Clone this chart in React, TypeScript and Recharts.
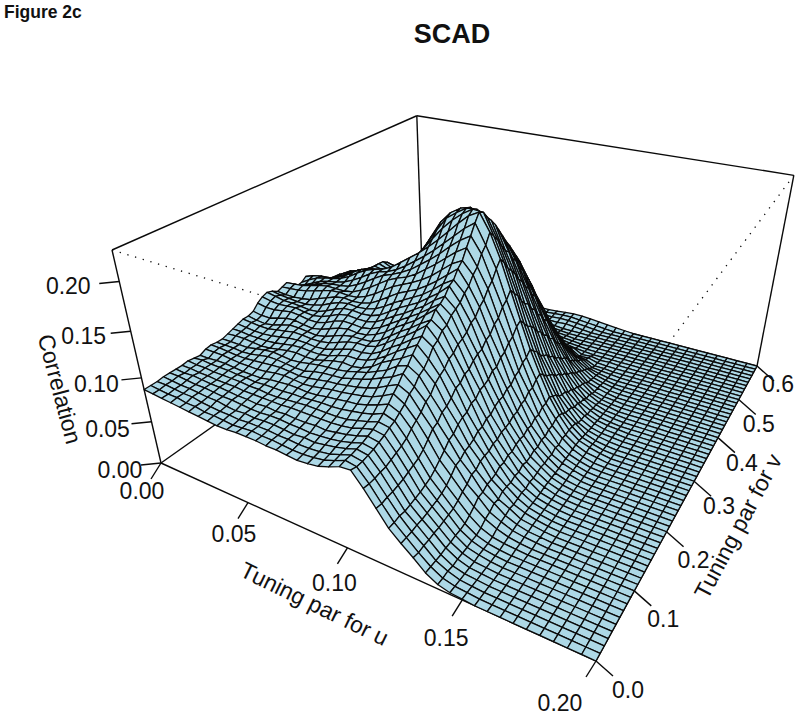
import { Scatter, ScatterChart, XAxis, YAxis } from "recharts";

const WIDTH = 800;
const HEIGHT = 717;
const FONT = "'Liberation Sans', Arial, sans-serif";

// tick labels of the three axes
const uTicks = [0, 0.05, 0.1, 0.15, 0.2];
const vTicks = [0, 0.1, 0.2, 0.3, 0.4, 0.5, 0.6];
const zTicks = [0, 0.05, 0.1, 0.15, 0.2];

const U_MAX = 0.2;
const V_MAX = 0.6;
const Z_MAX = 0.23;
const U_STEPS = 40;
const V_STEPS = 60;

// correlation x 1000, one row per v step (0 to 0.6), one value per u step (0 to 0.2).
// Rows stop where the surface reaches zero, the rest of the row is flat.
const correlationRows = [
  [87,86,85,84,83,82,81,80,79,79,80,80,80,79,79,78,77,78,80,84,89,90,76,60,44,33,23,12,5,2,1],
  [87,86,85,85,83,83,81,81,80,79,80,81,80,80,79,78,78,79,81,85,90,88,75,59,44,33,22,12,5,2,1],
  [87,87,86,85,85,83,82,81,81,80,81,81,81,80,80,79,79,80,82,86,90,88,75,60,45,33,23,12,6,2,1],
  [88,87,86,86,85,84,84,82,81,82,81,82,82,81,80,81,80,82,84,87,91,89,76,60,44,34,23,12,5,2,1],
  [88,88,87,86,86,85,84,84,83,82,82,83,83,82,82,81,82,83,85,88,92,90,76,61,45,34,24,13,6,2,1],
  [88,87,88,87,86,86,85,84,84,83,84,83,84,83,83,84,83,85,87,90,94,92,78,62,46,35,24,13,6,2,1],
  [88,88,87,87,86,86,86,85,85,85,85,85,86,86,86,86,86,87,89,93,96,94,80,64,47,36,25,14,6,3,1],
  [89,88,88,87,87,87,87,86,86,85,85,86,87,88,88,88,88,89,92,95,99,97,82,66,49,37,26,14,7,3,1],
  [88,89,88,88,88,87,87,86,87,87,87,88,88,89,90,90,91,93,95,98,103,99,85,68,51,39,27,15,7,3,1],
  [87,87,88,88,87,86,86,86,88,89,90,90,89,90,92,93,95,96,99,103,108,103,90,72,55,42,30,18,9,4,2,1],
  [90,90,90,89,88,88,88,89,91,92,91,90,91,93,95,96,98,100,103,108,114,107,94,78,60,47,34,22,13,7,3,1],
  [91,91,90,89,89,90,91,92,93,92,91,92,94,96,97,99,101,104,108,114,119,113,98,84,65,53,37,27,15,9,4,2,1],
  [90,90,90,89,90,92,94,94,93,92,92,95,97,98,99,102,105,109,114,119,126,116,104,86,71,54,42,27,19,10,5,2,1],
  [90,90,90,90,92,94,95,94,93,94,96,98,99,100,102,105,108,113,118,126,130,123,107,92,73,58,42,30,18,12,5,3,1],
  [92,93,93,92,91,92,94,96,97,96,96,99,102,104,103,105,110,118,124,130,137,126,114,94,78,59,46,30,21,11,6,3,1],
  [94,94,93,93,93,94,96,98,99,98,98,100,104,107,107,109,114,121,129,136,143,132,118,98,81,61,47,31,21,12,6,3,1],
  [96,95,94,94,95,97,99,100,100,99,100,103,107,110,110,112,118,126,133,141,148,140,121,104,82,65,47,34,20,13,6,3,1],
  [98,97,96,96,98,100,102,102,101,101,103,107,111,113,113,116,123,131,138,146,155,143,127,105,87,65,50,33,22,12,6,3,1],
  [98,96,95,97,100,103,103,102,101,103,107,111,113,113,114,119,127,135,142,150,157,149,129,110,87,69,50,36,21,14,6,3,1],
  [100,98,98,101,104,105,103,102,104,108,112,114,113,114,118,124,132,139,146,155,164,151,134,111,92,69,53,35,24,13,7,3,1],
  [106,104,104,106,108,107,105,105,108,113,116,116,115,117,122,129,136,143,150,158,166,157,136,116,93,73,53,38,22,14,7,3,1],
  [110,108,107,108,109,107,106,108,112,117,119,118,118,121,127,134,140,147,154,163,170,160,139,119,95,75,54,39,23,15,7,3,1],
  [112,110,108,108,107,106,107,111,116,120,121,120,121,125,132,139,145,151,159,167,177,163,145,120,100,75,57,38,25,14,7,3,1],
  [110,108,107,106,106,108,111,116,120,122,121,122,125,131,138,144,150,156,164,173,180,169,147,126,100,79,57,41,24,15,7,4,1],
  [106,105,105,106,108,112,116,120,122,121,122,125,131,138,145,150,155,162,170,179,188,173,154,128,106,79,61,40,27,14,8,4,1],
  [108,109,110,112,115,118,121,122,121,122,126,132,139,146,151,156,162,169,178,187,193,181,158,135,108,84,61,44,26,17,8,4,1],
  [110,111,112,115,118,120,120,120,122,127,133,140,147,152,156,162,170,178,187,196,203,186,166,138,114,86,66,43,29,15,8,4,1],
  [104,106,109,113,117,119,120,122,127,133,140,146,150,155,161,169,177,186,196,205,212,196,171,146,117,91,66,47,29,18,9,4,1],
  [99,103,108,113,116,118,121,126,132,139,144,147,152,159,167,175,184,194,204,214,222,202,180,150,124,93,71,47,32,17,9,4,2],
  [100,106,111,114,116,119,124,131,137,141,144,149,157,165,173,182,192,203,214,224,230,212,187,157,127,98,73,50,32,18,9,5,2],
  [104,108,110,111,114,119,126,132,132,134,138,144,150,160,174,188,201,212,221,228,227,205,180,150,120,92,68,46,29,17,8,4,1],
  [100,102,103,106,112,119,125,129,128,131,136,142,150,162,178,194,209,217,224,225,219,198,171,144,113,87,62,43,25,16,7,3,1],
  [90,93,97,104,112,118,122,127,126,130,135,141,150,164,182,200,212,219,222,217,213,189,165,135,109,79,59,37,24,12,6,3,1],
  [85,90,98,106,112,115,120,126,124,128,133,140,150,165,184,200,210,214,212,209,206,181,158,128,103,74,55,34,22,11,5,2,1],
  [84,92,99,104,107,111,118,126,122,126,131,138,148,163,180,193,200,202,201,199,197,176,149,124,95,71,49,33,18,11,5,2,1],
  [84,90,94,97,102,109,117,125,120,124,129,136,146,160,174,183,188,190,190,188,188,166,143,115,91,64,47,28,18,8,4,2,1],
  [77,82,86,91,98,106,114,121,118,122,127,134,143,155,165,172,176,178,180,181,179,160,134,110,83,61,41,27,14,8,3,1],
  [70,74,80,87,95,102,109,115,114,118,123,130,138,147,155,161,165,168,170,171,171,150,128,101,79,54,39,22,14,6,3,1],
  [62,68,76,84,91,97,102,108,108,113,118,124,131,139,146,151,155,158,160,161,162,143,118,96,71,51,33,21,10,6,2,1],
  [60,67,74,80,85,90,95,100,106,112,117,122,127,132,137,141,145,148,151,152,153,132,112,87,67,45,31,17,10,4,2],
  [58,63,67,72,77,82,88,94,100,105,109,113,118,123,128,132,135,138,141,143,144,125,102,82,59,42,26,16,7,3,1],
  [52,55,60,66,72,78,84,89,93,97,101,106,110,115,119,123,126,129,132,134,132,115,93,74,53,37,22,13,5,2,1],
  [46,51,57,63,69,74,78,82,87,91,95,99,103,107,111,115,118,120,122,123,122,103,86,65,48,30,20,9,5,2],
  [42,47,53,58,64,69,74,78,82,86,88,90,92,95,98,101,104,108,112,114,110,92,75,57,41,26,16,8,4,1],
  [38,43,48,53,58,63,68,72,76,79,81,83,85,87,90,93,96,100,102,103,97,81,65,49,34,22,13,6,3,1],
  [34,38,43,48,53,57,62,66,69,72,74,76,78,80,82,85,87,90,92,92,84,69,55,41,28,17,10,5,2],
  [30,34,38,43,47,52,56,59,63,65,67,69,71,72,74,77,79,81,82,80,70,58,42,33,19,14,6,3,1],
  [25,29,33,38,42,46,50,53,56,58,60,62,64,65,67,69,70,71,71,67,56,46,31,24,13,10,3,2,1],
  [21,25,29,33,37,41,44,47,50,52,54,56,57,58,59,60,61,61,59,53,42,34,21,16,7,6,1,1],
  [18,21,25,29,32,36,39,42,44,46,48,49,50,51,52,52,52,50,47,40,29,23,12,10,3,4,1],
  [15,18,21,25,28,31,34,37,39,41,42,43,44,44,44,44,43,40,36,28,18,14,6,7,1,2,0,1],
  [13,15,18,21,24,27,30,32,34,36,37,37,37,37,37,36,34,31,25,18,10,7,4,2,1],
  [10,13,15,18,21,23,25,27,29,30,31,31,31,31,30,29,26,22,16,10,6,4,2,1],
  [8,10,13,15,17,19,21,23,24,25,26,26,26,25,24,22,19,15,10,6,4,2,1],
  [7,8,10,12,14,16,17,19,20,21,21,21,21,20,19,16,13,10,6,4,2,1],
  [6,7,9,10,11,13,14,15,16,16,17,17,16,16,14,12,9,6,4,2,1],
  [4,6,7,8,9,10,11,12,13,13,13,13,13,12,10,8,6,4,2,1],
  [3,5,6,7,8,8,9,10,10,10,11,10,10,9,8,6,4,3,2,2,3,2,1],
  [3,4,5,5,6,7,7,8,8,9,8,9,8,7,6,4,3,3,3,4,4,3,2,1],
  [2,3,4,4,5,5,6,6,7,7,7,7,6,6,4,3,3,3,4,5,5,4,3,2,1],
  [2,3,3,4,4,5,5,6,6,7,7,7,6,5,4,3,3,3,4,5,6,6,5,4,3,2,1],
];

// where the persp() camera puts a data point on the page
function project(u: number, v: number, z: number) {
  const a = u / U_MAX;
  const b = v / V_MAX;
  const c = z / Z_MAX;
  const w = 1 - 0.25 * a + 0.42 * b - 0.135 * c;
  return {
    x: (161 + 286 * a + 438.7 * b - 64.1 * c) / w,
    y: (463 + 32.75 * a - 67.5 * b - 246.75 * c) / w,
  };
}

const zAt = (i: number, j: number) => (correlationRows[j][i] ?? 0) / 1000;
const gridPoint = (i: number, j: number) =>
  project((i / U_STEPS) * U_MAX, (j / V_STEPS) * V_MAX, zAt(i, j));

// back to front, as persp() paints them
function buildCells() {
  const cells = [];
  for (let j = V_STEPS - 1; j >= 0; j--) {
    for (let i = 0; i < U_STEPS; i++) {
      const corners = [gridPoint(i, j), gridPoint(i + 1, j), gridPoint(i + 1, j + 1), gridPoint(i, j + 1)];
      cells.push({ x: corners[0].x, y: corners[0].y, corners });
    }
  }
  return cells;
}

function segment(from: { x: number; y: number }, to: { x: number; y: number }, dashed = false) {
  return { x: from.x, y: from.y, dx: to.x - from.x, dy: to.y - from.y, dashed };
}

function buildBox() {
  const p = (a: number, b: number, c: number) => project(a * U_MAX, b * V_MAX, c * Z_MAX);
  return [
    segment(p(0, 0, 1), p(1, 0, 1), true),
    segment(p(1, 1, 1), p(1, 0, 1), true),
    segment(p(1, 0, 0), p(1, 0, 1), true),
    segment(p(0, 1, 0), p(0, 1, 1)),
    segment(p(0, 0, 0), p(0, 1, 0)),
    segment(p(0, 1, 0), p(1, 1, 0)),
    segment(p(0, 0, 1), p(0, 1, 1)),
    segment(p(0, 1, 1), p(1, 1, 1)),
    segment(p(0, 0, 0), p(0, 0, 1)),
    segment(p(1, 1, 0), p(1, 1, 1)),
    segment(p(0, 0, 0), p(1, 0, 0)),
    segment(p(1, 0, 0), p(1, 1, 0)),
  ];
}

const offset = (pt: { x: number; y: number }, dx: number, dy: number) => ({ x: pt.x + dx, y: pt.y + dy });

function buildTicks() {
  return [
    ...uTicks.map((t) => { const p = project(t, 0, 0); return segment(p, offset(p, -10, 16)); }),
    ...vTicks.map((t) => { const p = project(U_MAX, t, 0); return segment(p, offset(p, 17, 15)); }),
    ...zTicks.map((t) => { const p = project(0, 0, t); return segment(p, offset(p, -20, 2)); }),
  ];
}

// label offsets from each tick's foot on the axis
const uLabelOffsets = [[-19, 36], [-14, 39], [-13, 43], [-16, 46], [-36, 50]];
const vLabelOffsets = [[32, 37], [29, 36], [27, 36], [25, 33], [24, 33], [20, 32], [21, 26]];
const zLabelOffsets = [[-41, 15], [-44, 15], [-45, 14], [-47, 13], [-51, 13]];

function buildLabels() {
  const base = { size: 23, weight: 400, anchor: "middle", rotate: 0 };
  return [
    ...uTicks.map((t, i) => { const p = project(t, 0, 0); return { ...base, x: p.x + uLabelOffsets[i][0], y: p.y + uLabelOffsets[i][1], text: t.toFixed(2) }; }),
    ...vTicks.map((t, i) => { const p = project(U_MAX, t, 0); return { ...base, x: p.x + vLabelOffsets[i][0], y: p.y + vLabelOffsets[i][1], text: t.toFixed(1) }; }),
    ...zTicks.map((t, i) => { const p = project(0, 0, t); return { ...base, x: p.x + zLabelOffsets[i][0], y: p.y + zLabelOffsets[i][1], text: t.toFixed(2) }; }),
    { ...base, x: 52, y: 391, text: "Correlation", rotate: 75 },
    { ...base, x: 311, y: 611, text: "Tuning par for u", rotate: 26 },
    { ...base, x: 745, y: 530, text: "Tuning par for v", rotate: -62 },
    { ...base, x: 452, y: 43, text: "SCAD", size: 27, weight: 700 },
    { ...base, x: 4, y: 18, text: "Figure 2c", size: 17.5, weight: 700, anchor: "start" },
  ];
}

const cells = buildCells();
const box = buildBox();
const ticks = buildTicks();
const labels = buildLabels();

function CellShape({ cx, cy, payload }: any) {
  const points = payload.corners
    .map((c: any) => `${cx + c.x - payload.x},${cy + c.y - payload.y}`)
    .join(" ");
  return <polygon points={points} fill="#add8e6" stroke="#0a0a0a" strokeWidth={1.3} strokeLinejoin="round" />;
}

function SegmentShape({ cx, cy, payload }: any) {
  return (
    <line
      x1={cx}
      y1={cy}
      x2={cx + payload.dx}
      y2={cy + payload.dy}
      stroke="#0a0a0a"
      strokeWidth={payload.dashed ? 1.3 : 1.4}
      strokeDasharray={payload.dashed ? "1.3 6.7" : undefined}
    />
  );
}

function LabelShape({ cx, cy, payload }: any) {
  return (
    <text
      x={cx}
      y={cy}
      fontFamily={FONT}
      fontSize={payload.size}
      fontWeight={payload.weight}
      textAnchor={payload.anchor}
      fill="#111"
      transform={payload.rotate ? `rotate(${payload.rotate} ${cx} ${cy})` : undefined}
    >
      {payload.text}
    </text>
  );
}

export default function App() {
  return (
    <div style={{ position: "absolute", left: 0, top: 0, width: WIDTH, height: HEIGHT, background: "#fff" }}>
      <ScatterChart width={WIDTH} height={HEIGHT} margin={{ top: 0, right: 0, bottom: 0, left: 0 }}>
        <XAxis type="number" dataKey="x" domain={[0, WIDTH]} hide allowDataOverflow />
        <YAxis type="number" dataKey="y" domain={[0, HEIGHT]} reversed hide allowDataOverflow />
        <Scatter data={box} shape={SegmentShape} isAnimationActive={false} />
        <Scatter data={ticks} shape={SegmentShape} isAnimationActive={false} />
        <Scatter data={cells} shape={CellShape} isAnimationActive={false} />
        <Scatter data={labels} shape={LabelShape} isAnimationActive={false} />
      </ScatterChart>
    </div>
  );
}
